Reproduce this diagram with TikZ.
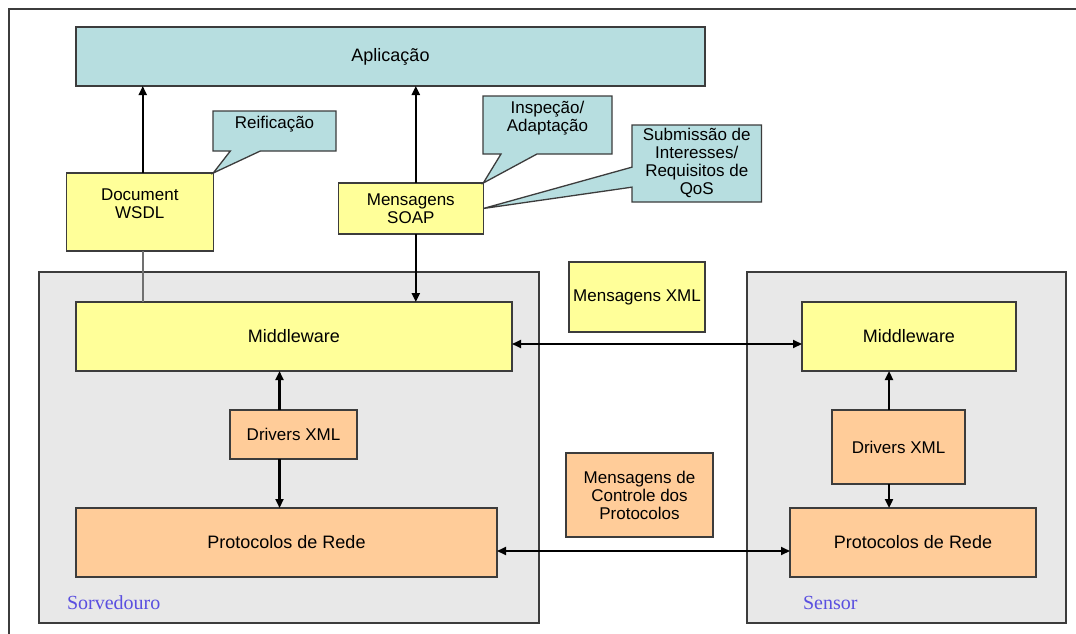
\documentclass[tikz,border=0pt]{standalone}
\usepackage{fontspec}
\setmainfont{Liberation Sans}
\newfontfamily\hostserif{Liberation Serif}
\usetikzlibrary{arrows.meta,shapes.callouts}

\definecolor{appcyan}{HTML}{B7DEE0}
\definecolor{layeryellow}{HTML}{FFFF99}
\definecolor{layerorange}{HTML}{FFCC99}
\definecolor{hostgray}{HTML}{E8E8E8}
\definecolor{edgegray}{HTML}{3C3C3C}
\definecolor{linkgray}{HTML}{707070}
\definecolor{hostblue}{HTML}{5A4FE0}

\begin{document}
\begin{tikzpicture}[x=1pt,y=-1pt,
  every node/.style={inner sep=0pt, outer sep=0pt},
  box/.style={draw=edgegray, line width=1.3pt},
  ylwbox/.style={box, fill=layeryellow},
  orgbox/.style={box, fill=layerorange},
  appbox/.style={box, fill=appcyan},
  host/.style={draw=edgegray, line width=1.4pt, fill=hostgray},
  note/.style={rectangle callout, draw=edgegray, line width=1.3pt, fill=appcyan},
  lbl/.style={font=\fontsize{17}{18}\selectfont, align=center},
  biglbl/.style={font=\fontsize{18}{19}\selectfont, align=center},
  hostlbl/.style={font=\hostserif\fontsize{20}{22}\selectfont, text=hostblue, anchor=west},
  flow/.style={line width=2.2pt, -{Triangle[length=9pt,width=8pt]}},
  flowboth/.style={line width=2pt, {Triangle[length=9pt,width=8pt]}-{Triangle[length=9pt,width=8pt]}},
  plainlink/.style={line width=1.8pt, draw=linkgray},
]
\fill[white] (0,0) rectangle (1076,634);
\useasboundingbox (0,0) rectangle (1076,634);

% page frame
\draw[edgegray, line width=1.4pt] (9,634) -- (9,9) -- (1076,9);

% hosts
\node[host, minimum width=500pt, minimum height=351pt] (srv) at (289,447.5) {};
\node[host, minimum width=319pt, minimum height=351pt] (sen) at (906.5,447.5) {};
\node[hostlbl] (srvlbl) at (67,603) {Sorvedouro};
\node[hostlbl] (senlbl) at (803,603) {Sensor};

% application layer
\node[appbox, biglbl, minimum width=629pt, minimum height=59pt] (app) at (390.5,56.5) {Aplicação};

% interface boxes
\node[ylwbox, minimum width=147pt, minimum height=78pt] (wsdl) at (139.75,212) {};
\node[lbl] (wsdltxt) at (139.75,204) {Document\\WSDL};
\node[ylwbox, lbl, minimum width=145pt, minimum height=51pt] (soap) at (410.8,208.5) {Mensagens\\SOAP};

% middleware layer
\node[ylwbox, biglbl, minimum width=436pt, minimum height=69pt] (mwL) at (294,336.5) {Middleware};
\node[ylwbox, biglbl, minimum width=214pt, minimum height=69pt] (mwR) at (909,336.5) {Middleware};
\node[ylwbox, lbl, minimum width=136pt, minimum height=70pt] (xmlmsg) at (637,297) {Mensagens XML};

% drivers and network layer
\node[orgbox, lbl, minimum width=127pt, minimum height=49pt] (drvL) at (293.5,434.5) {Drivers XML};
\node[orgbox, lbl, minimum width=133pt, minimum height=74pt] (drvR) at (898.5,447) {Drivers XML};
\node[orgbox, biglbl, minimum width=421pt, minimum height=69pt] (netL) at (286.5,542.5) {Protocolos de Rede};
\node[orgbox, biglbl, minimum width=246pt, minimum height=69pt] (netR) at (913,542.5) {Protocolos de Rede};
\node[orgbox, lbl, minimum width=147pt, minimum height=84pt] (ctrl) at (639.5,495) {Mensagens de\\Controle dos\\Protocolos};

% connectors
\draw[flow] ([xshift=3pt]wsdl.north) -- ([xshift=3pt]wsdl.north |- app.south);
\draw[plainlink] ([xshift=3pt]wsdl.south) -- ([xshift=3pt]wsdl.south |- mwL.north);
\draw[flow] ([xshift=5pt]soap.north) -- ([xshift=5pt]soap.north |- app.south);
\draw[flow] ([xshift=5pt]soap.south) -- ([xshift=5pt]soap.south |- mwL.north);
\draw[flow] ([xshift=-14pt]drvL.north) -- ([xshift=-14pt]drvL.north |- mwL.south);
\draw[flow] ([xshift=-14pt]drvL.south) -- ([xshift=-14pt]drvL.south |- netL.north);
\draw[flow] ([xshift=-9.5pt]drvR.north) -- ([xshift=-9.5pt]drvR.north |- mwR.south);
\draw[flow] ([xshift=-9.5pt]drvR.south) -- ([xshift=-9.5pt]drvR.south |- netR.north);
\draw[flowboth] ([yshift=-7.5pt]mwL.east) -- ([yshift=-7.5pt]mwL.east -| mwR.west);
\draw[flowboth] ([yshift=-8.5pt]netL.east) -- ([yshift=-8.5pt]netL.east -| netR.west);

% annotation callouts
\node[note, minimum width=123pt, minimum height=40pt, callout pointer width=30pt,
      callout absolute pointer={(wsdl.north east)}] (reif) at (274.5,131) {};
\node[lbl] (reiftxt) at (274.5,124) {Reificação};
\node[note, minimum width=129pt, minimum height=58pt, callout pointer width=36pt,
      callout absolute pointer={(soap.north east)}] (insp) at (547.5,125) {};
\node[lbl] (insptxt) at (547.5,118.5) {Inspeção/\\Adaptação};
\node[note, minimum width=129.5pt, minimum height=77pt, callout pointer width=20pt,
      callout absolute pointer={(soap.east)}] (subm) at (696.75,163.5) {};
\node[lbl] (submtxt) at (696.75,163) {Submissão de\\Interesses/\\Requisitos de\\QoS};
\end{tikzpicture}
\end{document}
